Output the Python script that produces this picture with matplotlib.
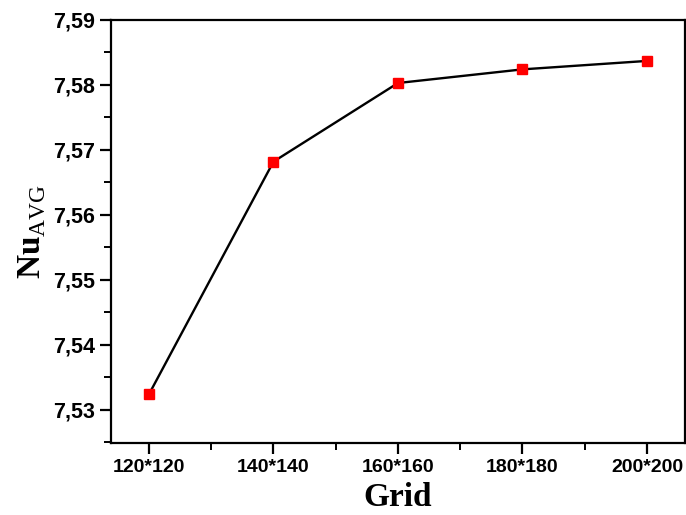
import numpy as np
import matplotlib.pyplot as plt
from matplotlib.ticker import FuncFormatter, MultipleLocator, AutoMinorLocator

# grid sizes and averaged Nusselt number
grids = ["120*120", "140*140", "160*160", "180*180", "200*200"]
nu_avg = [7.5324, 7.5682, 7.5803, 7.5824, 7.5837]

plt.rcParams['mathtext.fontset'] = 'custom'
plt.rcParams['mathtext.rm'] = 'Liberation Serif'
plt.rcParams['mathtext.bf'] = 'Liberation Serif:bold'

fig = plt.figure(figsize=(6.86, 5.15), dpi=100)
ax = fig.add_axes([0.1618, 0.1398, 0.8367, 0.8214])

x = np.arange(len(grids))
ax.plot(x, nu_avg, color="black", lw=1.7, marker="s", ms=6.8,
        mfc="red", mec="red", zorder=3)

ax.set_xlim(-0.305, len(grids) - 1 + 0.305)
ax.set_ylim(7.5249, 7.59)
ax.set_xticks(x)
ax.set_xticklabels(grids)
ax.xaxis.set_minor_locator(MultipleLocator(0.5))
ax.yaxis.set_major_locator(MultipleLocator(0.01))
ax.yaxis.set_minor_locator(AutoMinorLocator(2))
ax.yaxis.set_major_formatter(FuncFormatter(lambda v, p: f"{v:.2f}".replace(".", ",")))

for s in ax.spines.values():
    s.set_linewidth(1.6)
ax.tick_params(which="major", direction="out", length=8, width=1.6)
ax.tick_params(which="minor", direction="out", length=5, width=1.4)
ax.tick_params(top=False, right=False)

for lab in ax.get_xticklabels():
    lab.set_fontfamily("Liberation Sans")
    lab.set_fontweight("bold")
    lab.set_fontsize(14)
for lab in ax.get_yticklabels():
    lab.set_fontfamily("Liberation Sans")
    lab.set_fontweight("bold")
    lab.set_fontsize(15.5)

ax.set_xlabel("Grid", fontfamily="Liberation Serif", fontweight="bold",
              fontsize=24, labelpad=4)
ax.set_ylabel(r"$\mathbf{Nu}_{\mathrm{AVG}}$", fontsize=24, labelpad=4)

fig.savefig("out.png", dpi=100)
